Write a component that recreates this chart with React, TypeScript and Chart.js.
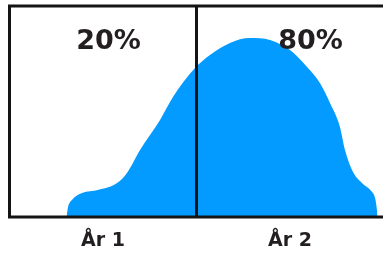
import React, { useEffect, useRef } from "react";
import { Chart, registerables } from "chart.js";

Chart.register(...registerables);

const categories = ["År 1", "År 2"];
const shareLabels = ["20%", "80%"];
const shareLabelX = [0.53, 1.61];
const curveX = [0.305, 0.313, 0.334, 0.388, 0.473, 0.575, 0.628, 0.698, 0.805, 0.874, 0.992, 1.072, 1.179, 1.286, 1.393, 1.5, 1.591, 1.66, 1.714, 1.767, 1.794, 1.837, 1.885, 1.939, 1.955, 1.965, 1.968];
const curveY = [0, 4.7, 8.1, 11.4, 12.8, 16.1, 20.9, 31.8, 46.0, 56.9, 70.6, 76.8, 82.5, 84.8, 83.9, 79.1, 71.1, 63.5, 54.0, 42.7, 31.8, 21.3, 16.1, 11.8, 9.0, 3.3, 0];

const FRAME = "#141414";
const TEXT = "#231f20";
const FILL = "#039bff";

const framePlugin = {
  id: "frame",
  afterDatasetsDraw(chart: any) {
    const { ctx, chartArea, scales } = chart;
    const { left, right, top, bottom } = chartArea;
    ctx.save();
    ctx.strokeStyle = FRAME;
    ctx.lineWidth = 3;
    ctx.lineCap = "square";
    ctx.beginPath();
    ctx.moveTo(left, bottom);
    ctx.lineTo(left, top);
    ctx.lineTo(right + 5, top);
    ctx.moveTo(left, bottom);
    ctx.lineTo(right + 5, bottom);
    const xd = scales.x.getPixelForValue(1);
    ctx.moveTo(xd, top);
    ctx.lineTo(xd, bottom);
    ctx.stroke();
    ctx.fillStyle = TEXT;
    ctx.font = "bold 27px 'DejaVu Sans'";
    ctx.textAlign = "center";
    ctx.textBaseline = "middle";
    shareLabels.forEach((t, i) => {
      ctx.fillText(t, scales.x.getPixelForValue(shareLabelX[i]), scales.y.getPixelForValue(83));
    });
    ctx.restore();
  },
};

export default function App() {
  const ref = useRef<HTMLCanvasElement>(null);
  useEffect(() => {
    const chart = new Chart(ref.current!, {
      type: "line",
      data: {
        datasets: [
          {
            data: curveX.map((x, i) => ({ x, y: curveY[i] })),
            backgroundColor: FILL,
            borderColor: FILL,
            borderWidth: 0,
            pointRadius: 0,
            fill: "origin",
            cubicInterpolationMode: "monotone",
          },
        ],
      },
      options: {
        responsive: false,
        animation: false,
        layout: { padding: { left: 9.5, top: 6, right: 2.5, bottom: 0 } },
        plugins: { legend: { display: false }, tooltip: { enabled: false } },
        scales: {
          x: {
            type: "linear",
            min: 0,
            max: 2,
            grid: { display: false, drawTicks: false },
            border: { display: false },
            afterBuildTicks: (scale: any) => {
              scale.ticks = categories.map((_, i) => ({ value: i + 0.5 }));
            },
            afterFit: (scale: any) => {
              scale.height = 37;
            },
            ticks: {
              autoSkip: false,
              maxRotation: 0,
              padding: 13,
              color: TEXT,
              font: { family: "'DejaVu Sans'", weight: "bold", size: 19 },
              callback: (_v: any, i: number) => categories[i],
            },
          },
          y: {
            min: 0,
            max: 100,
            display: false,
          },
        },
      },
      plugins: [framePlugin],
    });
    return () => chart.destroy();
  }, []);
  return (
    <div style={{ position: "absolute", left: 0, top: 0, width: 383, height: 254, overflow: "hidden", background: "#fff" }}>
      <canvas ref={ref} width={386} height={254} style={{ display: "block" }} />
    </div>
  );
}
